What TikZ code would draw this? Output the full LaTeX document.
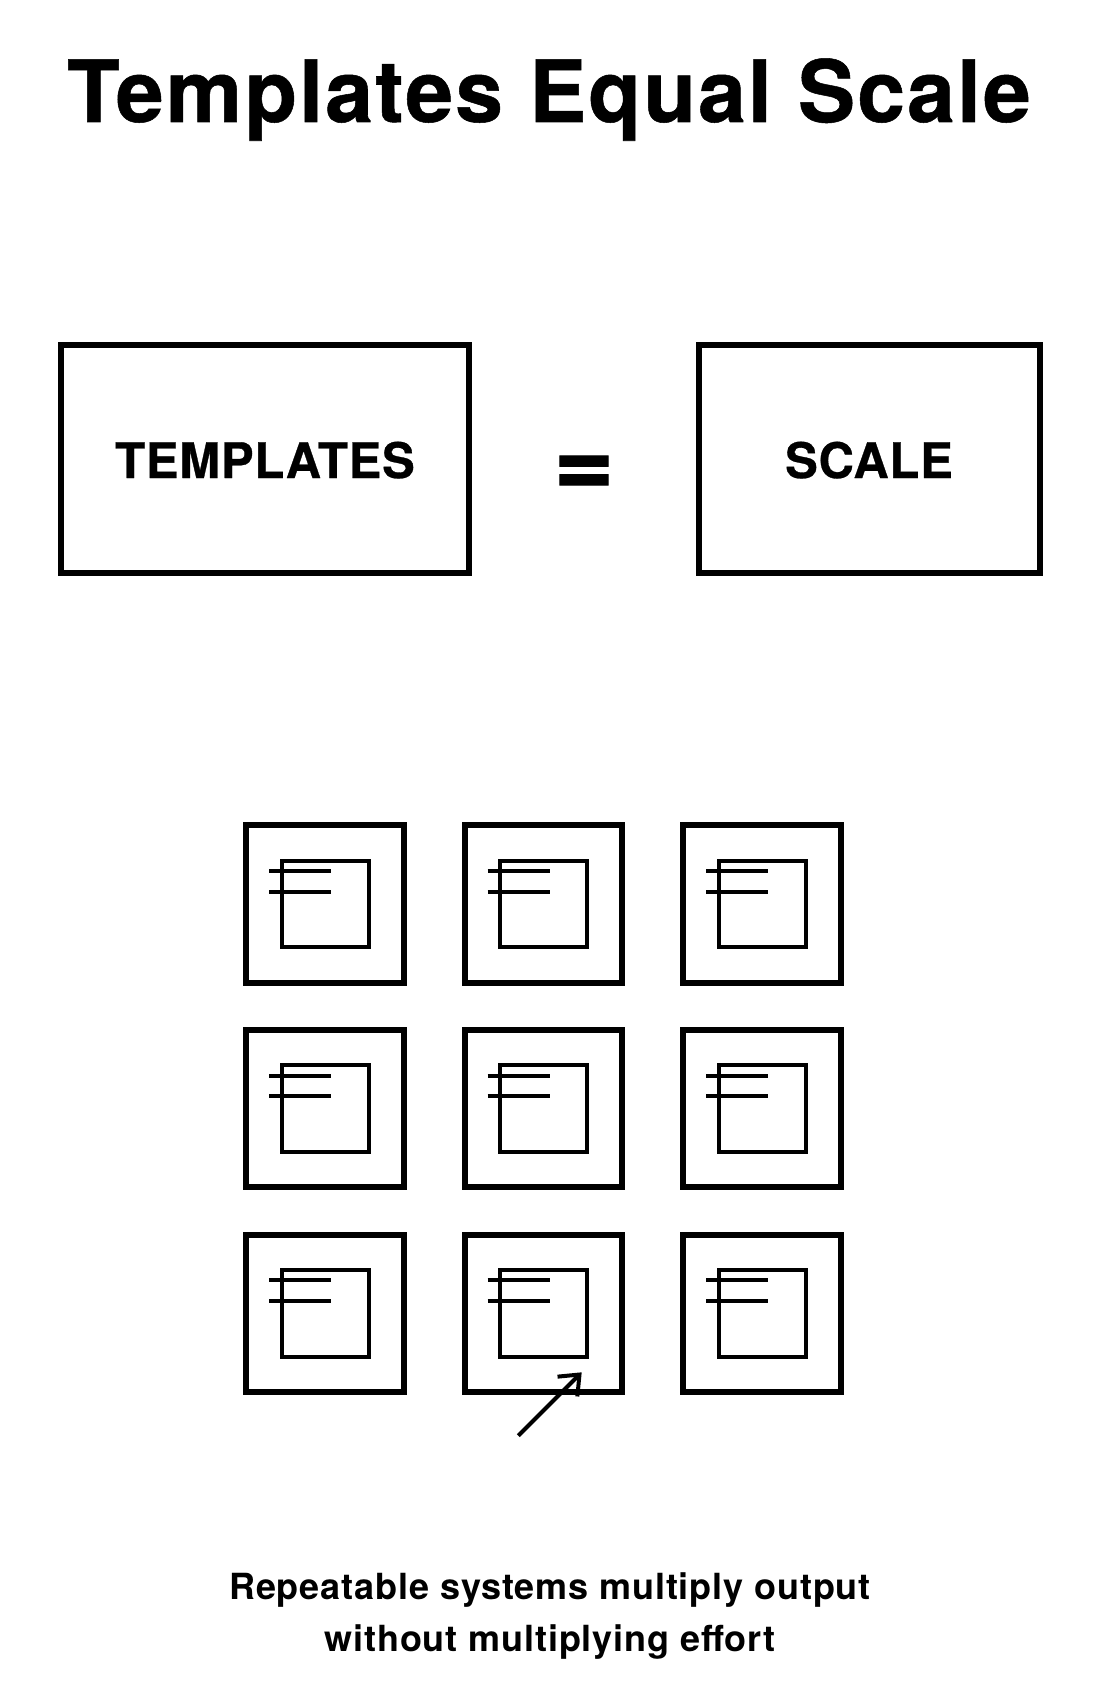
\documentclass[tikz,border=0pt]{standalone}
\usepackage{fontspec}
\setmainfont{TeX Gyre Heros}
\newfontfamily\titlefont[LetterSpace=2.4,FakeBold=0.6]{TeX Gyre Heros Bold}
\newfontfamily\labelfont[LetterSpace=1.6,FakeBold=0.6]{TeX Gyre Heros Bold}
\newfontfamily\eqfont[FakeBold=1]{TeX Gyre Heros Bold}
\newfontfamily\capfont[LetterSpace=2.4]{TeX Gyre Heros Bold}
\usetikzlibrary{arrows.meta}
\tikzset{
  x=1pt,y=-1pt,
  title/.style={anchor=base,inner sep=0,font=\fontsize{86}{86}\selectfont\titlefont},
  biglabel/.style={draw,line width=6pt,inner sep=0,align=center},
  labeltext/.style={anchor=base,inner sep=0,font=\fontsize{49}{49}\selectfont\labelfont},
  eqsign/.style={anchor=base,inner sep=0,font=\fontsize{104}{104}\selectfont\eqfont},
  caption/.style={anchor=base,inner sep=0,font=\fontsize{36}{36}\selectfont\capfont},
  outerbox/.style={draw,line width=6pt,inner sep=0,minimum width=157.4pt,minimum height=157.4pt},
  innerbox/.style={draw,line width=4pt,inner sep=0,minimum width=87pt,minimum height=86.7pt},
  tick/.style={line width=4pt},
  pointer/.style={line width=4pt,-{Straight Barb[length=17pt,width=28pt,line width=4pt]}}
}
\begin{document}
\begin{tikzpicture}
\useasboundingbox (0,0) rectangle (1101,1696);
\fill[white] (0,0) rectangle (1101,1696);
\node[title] (t) at (549,122) {Templates Equal Scale};
\node[biglabel,minimum width=408pt,minimum height=228pt] (a) at (265,458.5) {};
\node[biglabel,minimum width=341pt,minimum height=228pt] (b) at (869,458.5) {};
\node[labeltext] (la) at (265,478) {TEMPLATES};
\node[labeltext] (lb) at (869,478) {SCALE};
\node[eqsign] (e) at (584,496.5) {=};
\foreach \c in {0,1,2}{
  \foreach \r in {0,1,2}{
    \node[outerbox] (o\c\r) at ({325+218.4*\c},{904+204.7*\r}) {};
    \node[innerbox] (i\c\r) at ({325.4+218.4*\c},{903.9+204.7*\r}) {};
    \coordinate (la\c\r) at ({269.3+218.4*\c},{871+204.7*\r});
    \coordinate (lb\c\r) at ({331.3+218.4*\c},{871+204.7*\r});
    \coordinate (lc\c\r) at ({269.3+218.4*\c},{891.7+204.7*\r});
    \coordinate (ld\c\r) at ({331.3+218.4*\c},{891.7+204.7*\r});
    \draw[tick] (la\c\r) -- (lb\c\r);
    \draw[tick] (lc\c\r) -- (ld\c\r);
  }
}
\coordinate (ps) at (518.3,1435.7);
\coordinate (pe) at (581.7,1372.3);
\draw[pointer] (ps) -- (pe);
\node[caption] (c1) at (550,1599) {Repeatable systems multiply output};
\node[caption] (c2) at (550,1651) {without multiplying effort};
\end{tikzpicture}
\end{document}
